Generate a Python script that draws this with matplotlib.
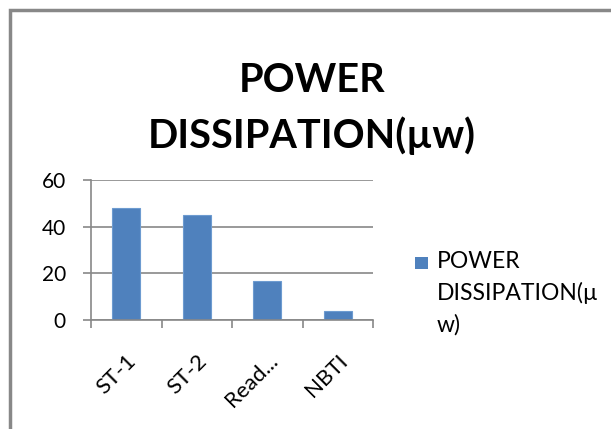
import matplotlib.pyplot as plt
import matplotlib.transforms as mtransforms
from matplotlib.patches import Rectangle

categories = ["ST-1", "ST-2", "Read...", "NBTI"]
power = [48, 45, 16.7, 3.7]
series_name = "POWER\nDISSIPATION(µ\nw)"
title = "POWER\nDISSIPATION(µw)"
yticks = [0, 20, 40, 60]

plt.rcParams['font.family'] = ['Lato', 'DejaVu Sans']
bar_color = "#4f81bd"
grey = "#888888"

fig = plt.figure(figsize=(6.11, 4.29), dpi=100)
W, H = 611, 429
# chart border (top/left visible)
fig.patches.append(Rectangle((9.5 / W, -0.1), 1.2, 1.1 - 9.5 / H, transform=fig.transFigure,
                             fill=False, edgecolor=grey, linewidth=2.5))

ax = fig.add_axes([91 / W, 1 - 320 / H, 282 / W, 140 / H])
x = range(len(categories))
ax.bar(x, power, width=0.4, color=bar_color, edgecolor="#6d9bd0", linewidth=0.8)

ax.set_xlim(-0.5, len(categories) - 0.5)
ax.set_ylim(0, 60)
ax.set_yticks(yticks)
ax.set_yticklabels([str(v) for v in yticks], fontsize=15)
ax.yaxis.grid(True, color=grey, linewidth=1.2)
ax.set_axisbelow(True)

ax.set_xticks([i - 0.5 for i in range(len(categories) + 1)])
ax.set_xticklabels([])
ax.set_xticks(list(x), minor=True)
ax.set_xticklabels(categories, minor=True, rotation=45, ha="right", va="top",
                   fontsize=16, rotation_mode="anchor")
shift = mtransforms.ScaledTranslation(3 / 100, 0, fig.dpi_scale_trans)
for lbl in ax.get_xticklabels(minor=True):
    lbl.set_transform(lbl.get_transform() + shift)
ax.tick_params(axis="x", which="minor", length=0, pad=22)
ax.tick_params(axis="x", which="major", length=6, width=1.2, color=grey)
ax.tick_params(axis="y", length=6, width=1.2, color=grey, pad=12)

for s in ["top", "right"]:
    ax.spines[s].set_visible(False)
for s in ["left", "bottom"]:
    ax.spines[s].set_color(grey)
    ax.spines[s].set_linewidth(1.2)

# title, two lines
for line, base in zip(title.split("\n"), [92, 148]):
    fig.text(312 / W, 1 - base / H, line, ha="center", va="baseline", fontsize=28.5,
             fontweight="bold")

# legend
fig.patches.append(Rectangle((415 / W, 1 - 269 / H), 13 / W, 12 / H, transform=fig.transFigure,
                             facecolor=bar_color, edgecolor="none"))
for line, base in zip(series_name.split("\n"), [268, 300, 332]):
    fig.text(437 / W, 1 - base / H, line, ha="left", va="baseline", fontsize=16.5)

fig.savefig("out.png", dpi=100)
